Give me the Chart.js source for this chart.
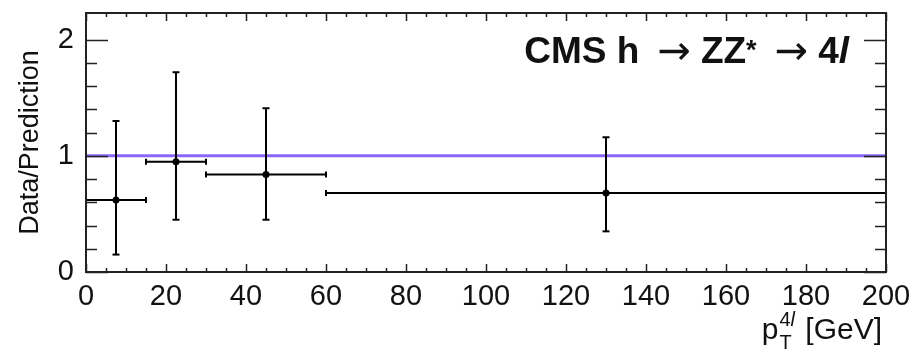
<!DOCTYPE html>
<html>
<head>
<meta charset="utf-8">
<title>Data/Prediction vs pT(4l)</title>
<script src="https://cdn.jsdelivr.net/npm/chart.js@4/dist/chart.umd.min.js"></script>
<style>
  html, body { margin: 0; padding: 0; background: #fff; }
  #wrap { width: 916px; height: 357px; }
</style>
</head>
<body>
<div id="wrap"><canvas id="ratioChart" width="916" height="357"></canvas></div>
<script>
// --- bins and measured ratio ---
const binLow = [0, 15, 30, 60];
const binHigh = [15, 30, 60, 200];
const binCenter = [7.5, 22.5, 45, 130];
const ratio = [0.62, 0.95, 0.84, 0.68];
const ratioUp = [1.30, 1.72, 1.41, 1.16];
const ratioDown = [0.15, 0.45, 0.45, 0.35];

// x and y axis ranges / tick steps
const xRange = [0, 200];
const yRange = [0, 2.23];
const xLabelStep = 20;
const yLabelStep = 1;

const FONT = '"Liberation Sans", Arial, Helvetica, sans-serif';
const INK = '#111';

const datasets = [];

// central values
datasets.push({
  data: binCenter.map((x, i) => ({ x, y: ratio[i] })),
  showLine: false,
  pointRadius: 3.5,
  pointBackgroundColor: '#000',
  pointBorderColor: '#000',
  pointBorderWidth: 0
});

// horizontal (bin width) and vertical (uncertainty) bars, with end caps
for (let i = 0; i < ratio.length; i++) {
  datasets.push({
    data: [{ x: binLow[i], y: ratio[i] }, { x: binHigh[i], y: ratio[i] }],
    showLine: true,
    borderColor: '#000',
    borderWidth: 2,
    pointStyle: 'line',
    rotation: 90,
    pointRadius: 3,
    pointBorderColor: '#000',
    pointBorderWidth: 2,
    clip: 4
  });
  datasets.push({
    data: [{ x: binCenter[i], y: ratioDown[i] }, { x: binCenter[i], y: ratioUp[i] }],
    showLine: true,
    borderColor: '#000',
    borderWidth: 2,
    pointStyle: 'line',
    rotation: 0,
    pointRadius: 3.5,
    pointBorderColor: '#000',
    pointBorderWidth: 2
  });
}

// unity reference line, drawn underneath
datasets.push({
  data: [{ x: xRange[0], y: 1 }, { x: xRange[1], y: 1 }],
  showLine: true,
  borderColor: 'rgb(136, 104, 255)',
  borderWidth: 3,
  pointRadius: 0
});

function isStep(v, step) {
  const k = v / step;
  return Math.abs(k - Math.round(k)) < 1e-6;
}

// draws a run of pieces right-aligned at xRight; a piece is either
// [text, font, dy] or a plain number meaning extra horizontal gap
function drawPieces(ctx, pieces, xRight, base) {
  const widthOf = p => {
    if (typeof p === 'number') return p;
    ctx.font = p[1];
    return ctx.measureText(p[0]).width;
  };
  let x = xRight - pieces.reduce((s, p) => s + widthOf(p), 0);
  pieces.forEach(p => {
    const w = widthOf(p);
    if (typeof p !== 'number') ctx.fillText(p[0], x, base + (p[2] || 0));
    x += w;
  });
}

// ROOT-like frame with inward ticks on all four sides
const framePlugin = {
  id: 'frame',
  afterDatasetsDraw(chart) {
    const { ctx, chartArea: a, scales } = chart;
    ctx.save();
    ctx.strokeStyle = '#222';
    ctx.lineWidth = 2;
    ctx.strokeRect(a.left, a.top, a.right - a.left, a.bottom - a.top);
    ctx.lineWidth = 1.5;
    ctx.beginPath();
    scales.x.ticks.forEach(t => {
      if (!isStep(t.value, 5)) return;
      const px = Math.round(scales.x.getPixelForValue(t.value)) + 0.5;
      const len = isStep(t.value, xLabelStep) ? 8 : 4;
      ctx.moveTo(px, a.bottom); ctx.lineTo(px, a.bottom - len);
      ctx.moveTo(px, a.top); ctx.lineTo(px, a.top + len);
    });
    scales.y.ticks.forEach(t => {
      if (!isStep(t.value, 0.2)) return;
      const py = Math.round(scales.y.getPixelForValue(t.value)) + 0.5;
      const len = isStep(t.value, yLabelStep) ? 22 : 11;
      ctx.moveTo(a.left, py); ctx.lineTo(a.left + len, py);
      ctx.moveTo(a.right, py); ctx.lineTo(a.right - len, py);
    });
    ctx.stroke();
    ctx.restore();
  },
  afterDraw(chart) {
    const { ctx } = chart;
    ctx.save();
    ctx.fillStyle = INK;
    ctx.textBaseline = 'alphabetic';

    // experiment / channel label
    const bold = 'bold 37px ' + FONT;
    const boldIt = 'italic bold 37px ' + FONT;
    const star = 'bold 27px ' + FONT;
    const arrow = '40px "DejaVu Sans", sans-serif';
    drawPieces(ctx, [
      ['CMS h', bold], 18, ['\u2192', arrow, 1], 10, ['ZZ', bold], ['*', star, -4],
      18, ['\u2192', arrow, 1], 10, ['4', bold], ['l', boldIt]
    ], 849, 63);

    // x axis title: p_T^{4l} [GeV]
    const big = '30px ' + FONT;
    const small = '20px ' + FONT;
    const smallIt = 'italic 20px ' + FONT;
    ctx.font = big;
    const wp = ctx.measureText('p').width;
    const wGev = ctx.measureText(' [GeV]').width;
    ctx.font = small;
    const w4 = ctx.measureText('4').width;
    const wT = ctx.measureText('T').width;
    ctx.font = smallIt;
    const wl = ctx.measureText('l').width;
    const wScript = Math.max(wT, w4 + wl) + 2;
    const base = 339;
    let x = 881 - (wp + wScript + wGev);
    ctx.font = big;
    ctx.fillText('p', x, base);
    x += wp + 1;
    ctx.font = small;
    ctx.fillText('T', x, base + 10);
    ctx.fillText('4', x, base - 13);
    ctx.font = smallIt;
    ctx.fillText('l', x + w4, base - 13);
    x += wScript;
    ctx.font = big;
    ctx.fillText(' [GeV]', x, base);
    ctx.restore();
  }
};

new Chart(document.getElementById('ratioChart').getContext('2d'), {
  type: 'scatter',
  data: { datasets },
  options: {
    responsive: false,
    animation: false,
    events: [],
    layout: { padding: { top: 13, right: 30, left: 0, bottom: 0 } },
    plugins: { legend: { display: false }, tooltip: { enabled: false } },
    scales: {
      x: {
        type: 'linear',
        min: xRange[0],
        max: xRange[1],
        afterFit: s => { s.height = 85; s.paddingLeft = 0; s.paddingRight = 0; },
        grid: { display: false, drawTicks: false },
        border: { display: false },
        ticks: {
          stepSize: 5,
          autoSkip: false,
          maxRotation: 0,
          padding: 8,
          color: INK,
          font: { family: FONT, size: 29 },
          callback: v => (isStep(v, xLabelStep) ? String(v) : '')
        }
      },
      y: {
        type: 'linear',
        min: yRange[0],
        max: yRange[1],
        afterFit: s => { s.width = 86; s.paddingTop = 0; s.paddingBottom = 0; },
        grid: { display: false, drawTicks: false },
        border: { display: false },
        title: {
          display: true,
          text: 'Data/Prediction',
          color: INK,
          font: { family: FONT, size: 27 },
          padding: { top: 14, bottom: 0 }
        },
        ticks: {
          stepSize: 0.2,
          autoSkip: false,
          padding: 12,
          color: INK,
          font: { family: FONT, size: 29 },
          callback: v => (isStep(v, yLabelStep) ? String(Math.round(v)) : '')
        }
      }
    }
  },
  plugins: [framePlugin]
});
</script>
</body>
</html>
